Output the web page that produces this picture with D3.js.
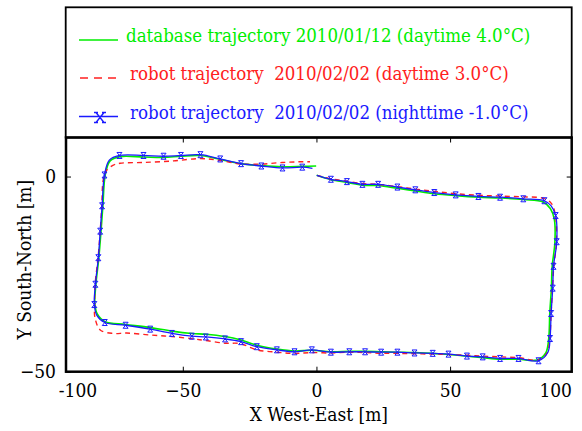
<!DOCTYPE html>
<html>
<head>
<meta charset="utf-8">
<script src="https://cdn.jsdelivr.net/npm/d3@7"></script>
<style>
  body { margin: 0; background: #fff; }
  svg text { font-stretch: condensed; }
</style>
</head>
<body>
<svg id="chart"></svg>
<script>
// trajectories, [x, y] in metres, clockwise from the start point near (0, 0)
const databaseTrack = [
  [0.1, 0.3], [5.4, -0.8], [11.4, -1.5], [17.2, -2.2], [23.1, -2.3], [30.3, -3.0], [37.0, -3.7],
  [44.1, -4.4], [52.1, -4.9], [60.6, -5.3], [68.7, -5.5], [77.4, -5.9], [84.8, -6.5], [87.5, -8.2],
  [89.0, -11.0], [89.2, -17.0], [88.2, -23.0], [87.9, -28.6], [87.3, -35.0], [86.9, -41.5],
  [85.8, -45.2], [82.5, -47.0], [75.6, -46.8], [68.7, -46.8], [62.2, -46.4], [56.3, -46.0],
  [49.4, -45.6], [43.5, -45.3], [36.7, -45.1], [30.3, -45.0], [24.2, -44.9], [18.2, -44.8],
  [12.3, -44.8], [5.4, -44.9], [-1.7, -44.5], [-8.2, -44.7], [-14.8, -44.2], [-22.3, -43.2],
  [-28.2, -41.9], [-34.2, -41.0], [-41.4, -40.4], [-46.6, -40.2], [-54.1, -39.6], [-62.2, -38.7],
  [-71.4, -37.9], [-79.0, -37.2], [-82.0, -35.2], [-82.9, -32.6], [-82.5, -27.5], [-81.4, -20.7],
  [-80.6, -14.0], [-79.9, -7.5], [-79.0, 0.5], [-77.2, 4.0], [-73.5, 5.1], [-64.7, 5.0],
  [-57.2, 4.9], [-50.7, 5.2], [-43.4, 5.4], [-36.0, 4.4], [-28.2, 3.3], [-20.6, 2.8],
  [-12.7, 2.5], [-5.3, 2.6], [-0.1, 2.7]
]

const robotDayTrack = [
  [0.3, 0.3], [5.4, -0.6], [11.4, -1.2], [17.2, -1.8], [23.1, -2.0], [30.3, -2.6], [37.0, -3.2],
  [44.1, -3.8], [52.1, -4.4], [60.6, -4.8], [68.7, -5.0], [77.4, -5.2], [85.0, -5.6], [87.8, -6.8],
  [89.3, -9.5], [89.8, -16.7], [88.8, -23.0], [88.3, -28.6], [87.8, -35.0], [87.3, -41.5],
  [86.3, -45.2], [83.0, -47.0], [75.6, -46.4], [68.7, -46.2], [62.2, -46.0], [56.3, -45.8],
  [49.4, -45.6], [43.5, -45.5], [36.7, -45.4], [30.3, -45.3], [24.2, -45.3], [18.2, -45.1],
  [12.3, -45.0], [5.4, -45.2], [-1.7, -45.1], [-8.2, -45.3], [-14.8, -45.0], [-22.3, -44.4],
  [-28.6, -42.8], [-34.2, -42.7], [-41.4, -42.0], [-46.0, -41.6], [-54.1, -41.0], [-62.2, -40.6],
  [-71.0, -40.1], [-76.0, -40.2], [-80.9, -39.3], [-82.9, -36.0], [-83.0, -32.8], [-82.8, -27.6],
  [-81.7, -20.8], [-80.9, -14.0], [-80.3, -7.5], [-79.8, -1.0], [-78.6, 1.5], [-76.0, 2.9],
  [-73.5, 3.4], [-64.7, 3.6], [-53.5, 4.0], [-43.5, 4.6], [-36.0, 4.1], [-28.2, 3.2],
  [-20.6, 3.2], [-12.7, 3.6], [-5.3, 3.8], [-2.4, 3.8]
]

const robotNightTrack = [
  [0.1, 0.3], [5.4, -0.7], [11.4, -1.3], [17.2, -2.0], [23.1, -2.0], [30.3, -2.7], [37.0, -3.4],
  [44.1, -4.1], [52.1, -4.7], [60.6, -5.1], [68.7, -5.3], [77.4, -5.7], [85.3, -6.2], [87.8, -7.5],
  [89.5, -10.0], [89.9, -16.7], [88.7, -23.0], [88.4, -28.6], [87.8, -35.1], [87.4, -41.5],
  [86.6, -45.0], [83.1, -47.2], [75.6, -46.6], [68.7, -46.6], [62.2, -46.2], [56.3, -46.0],
  [49.4, -45.5], [43.5, -45.3], [36.7, -45.2], [30.3, -45.0], [24.2, -45.0], [18.2, -44.9],
  [12.3, -44.9], [5.4, -45.0], [-1.7, -44.4], [-8.2, -44.9], [-14.8, -44.4], [-22.3, -43.6],
  [-28.2, -42.3], [-34.2, -41.6], [-41.4, -41.1], [-46.6, -40.9], [-54.1, -40.2], [-62.2, -39.1],
  [-71.4, -38.1], [-79.2, -37.4], [-82.2, -35.5], [-83.1, -32.8], [-82.7, -27.6], [-81.6, -20.8],
  [-80.9, -14.0], [-80.2, -7.5], [-79.3, 0.4], [-77.5, 4.2], [-73.7, 5.4], [-64.7, 5.4],
  [-57.2, 5.2], [-50.7, 5.4], [-43.4, 5.6], [-36.0, 4.5], [-28.2, 3.3], [-20.6, 2.7],
  [-12.7, 2.2], [-5.3, 2.4], [-1.5, 2.1]
]

// sample points marked with x on the night run
const robotNightMarks = [
  [5.4, -0.7], [11.4, -1.3], [17.2, -2.0], [23.1, -2.0], [30.3, -2.7], [37.0, -3.4], [44.1, -4.1],
  [52.1, -4.7], [60.6, -5.1], [68.7, -5.3], [77.4, -5.7], [85.3, -6.2], [89.5, -10.0], [89.9, -16.7],
  [88.7, -23.0], [88.4, -28.6], [87.8, -35.1], [87.4, -41.5], [83.1, -47.2], [75.6, -46.6],
  [68.7, -46.6], [62.2, -46.2], [56.3, -46.0], [49.4, -45.5], [43.5, -45.3], [36.7, -45.2],
  [30.3, -45.0], [24.2, -45.0], [18.2, -44.9], [12.3, -44.9], [5.4, -45.0], [-1.7, -44.4],
  [-8.2, -44.9], [-14.8, -44.4], [-22.3, -43.6], [-28.2, -42.3], [-34.2, -41.6], [-41.4, -41.1],
  [-46.6, -40.9], [-54.1, -40.2], [-62.2, -39.1], [-71.4, -38.1], [-79.2, -37.4], [-83.1, -32.8],
  [-82.7, -27.6], [-81.6, -20.8], [-80.9, -14.0], [-80.2, -7.5], [-79.3, 0.4], [-73.7, 5.4],
  [-64.7, 5.4], [-57.2, 5.2], [-50.7, 5.4], [-43.4, 5.6], [-36.0, 4.5], [-28.2, 3.3],
  [-20.6, 2.7], [-12.7, 2.2], [-5.3, 2.4]
]

const legendLabels = [
  "database trajectory 2010/01/12 (daytime 4.0°C)",
  "robot trajectory  2010/02/02 (daytime 3.0°C)",
  "robot trajectory  2010/02/02 (nighttime -1.0°C)"
]
const xTicks = [-50, 0, 50]
const xEndLabels = ["-100", "100"]
const yTicks = [-50, 0]

const width = 582
const height = 431
const plot = { left: 66, right: 571.7, top: 137.5, bottom: 371.7 }
const serif = "DejaVu Serif Condensed, DejaVu Serif, serif"

const svg = d3.select("#chart")
    .attr("width", width)
    .attr("height", height)
    .style("font-family", serif)

const x = d3.scaleLinear().domain([-93.7, 95.5]).range([plot.left, plot.right])
const y = d3.scaleLinear().domain([-50, 10]).range([plot.bottom, plot.top])

const line = d3.line()
    .x(d => x(d[0]))
    .y(d => y(d[1]))
    .curve(d3.curveCatmullRom.alpha(0.5))

const markPath = "M-2.5,-3H2.5M-2.5,3H2.5M-2.5,-3L2.5,3M2.5,-3L-2.5,3"

// trajectories
svg.append("path")
    .attr("d", line(databaseTrack))
    .attr("fill", "none")
    .attr("stroke", "#00ee00")
    .attr("stroke-width", 1.6)

svg.append("path")
    .attr("d", line(robotDayTrack))
    .attr("fill", "none")
    .attr("stroke", "#ff2020")
    .attr("stroke-width", 1.4)
    .attr("stroke-dasharray", "5,4")

svg.append("path")
    .attr("d", line(robotNightTrack))
    .attr("fill", "none")
    .attr("stroke", "#1a1aff")
    .attr("stroke-width", 1.3)

svg.selectAll(".mark")
    .data(robotNightMarks)
    .enter().append("path")
    .attr("class", "mark")
    .attr("transform", d => `translate(${x(d[0])},${y(d[1])})`)
    .attr("d", markPath)
    .attr("fill", "none")
    .attr("stroke", "#1a1aff")
    .attr("stroke-width", 1)

// axes, ticks point inwards
const fontSize = 19
const bottomAxis = svg.append("g")
    .attr("transform", `translate(0,${plot.bottom})`)
    .call(d3.axisBottom(x).tickValues(xTicks).tickSize(-5).tickPadding(12))
const topAxis = svg.append("g")
    .attr("transform", `translate(0,${plot.top})`)
    .call(d3.axisTop(x).tickValues(xTicks).tickSize(-5).tickFormat(""))
const leftAxis = svg.append("g")
    .attr("transform", `translate(${plot.left},0)`)
    .call(d3.axisLeft(y).tickValues(yTicks).tickSize(-5).tickPadding(10))
const rightAxis = svg.append("g")
    .attr("transform", `translate(${plot.right},0)`)
    .call(d3.axisRight(y).tickValues([0]).tickSize(-5).tickFormat(""))

;[bottomAxis, topAxis, leftAxis, rightAxis].forEach(g => {
    g.attr("font-family", null).attr("font-size", null)
        .style("font-family", serif).style("font-size", fontSize + "px")
    g.select(".domain").remove()
    g.selectAll("line").attr("stroke", "#000").attr("stroke-width", 1)
    g.selectAll("text").attr("fill", "#000")
})

// end labels sit at the frame edges
bottomAxis.selectAll(".endLabel")
    .data(xEndLabels)
    .enter().append("text")
    .attr("class", "endLabel")
    .attr("x", (d, i) => i === 0 ? x.range()[0] + 12 : x.range()[1] - 16)
    .attr("y", 12)
    .attr("dy", "0.71em")
    .attr("text-anchor", "middle")
    .attr("fill", "#000")
    .text(d => d)

// frame
svg.append("rect")
    .attr("x", plot.left)
    .attr("y", plot.top)
    .attr("width", plot.right - plot.left)
    .attr("height", plot.bottom - plot.top)
    .attr("fill", "none")
    .attr("stroke", "#000")
    .attr("stroke-width", 2.5)

svg.append("text")
    .attr("x", (plot.left + plot.right) / 2)
    .attr("y", 421)
    .attr("text-anchor", "middle")
    .style("font-size", "19px")
    .text("X West-East [m]")

svg.append("text")
    .attr("transform", `translate(31,${(plot.top + plot.bottom) / 2 + 5}) rotate(-90)`)
    .attr("text-anchor", "middle")
    .style("font-size", "19px")
    .text("Y South-North [m]")

// legend box
const legend = svg.append("g")
legend.append("rect")
    .attr("x", 65.7)
    .attr("y", 7.3)
    .attr("width", 506)
    .attr("height", plot.top - 7.3)
    .attr("fill", "none")
    .attr("stroke", "#000")
    .attr("stroke-width", 1.8)

const legendColors = ["#00ee00", "#ff2020", "#1a1aff"]
const rowY = [40, 78, 116.5]
const textX = [126, 130, 130]

legendLabels.forEach((label, i) => {
    const ln = legend.append("line")
        .attr("x1", 79).attr("x2", 118)
        .attr("y1", rowY[i]).attr("y2", rowY[i])
        .attr("stroke", legendColors[i])
        .attr("stroke-width", 1.6)
    if (i === 1) ln.attr("x1", 80).attr("x2", 116).attr("stroke-dasharray", "8,6")
    legend.append("text")
        .attr("x", textX[i])
        .attr("y", rowY[i] + 2)
        .attr("fill", legendColors[i])
        .style("font-size", "18.5px")
        .style("white-space", "pre")
        .text(label)
})

legend.append("path")
    .attr("transform", `translate(100,${rowY[2] + 1})`)
    .attr("d", "M-4,-5L4,5M4,-5L-4,5M-6,-5H-2M2,-5H6M-6,5H-2M2,5H6")
    .attr("fill", "none")
    .attr("stroke", "#1a1aff")
    .attr("stroke-width", 1.4)
</script>
</body>
</html>
